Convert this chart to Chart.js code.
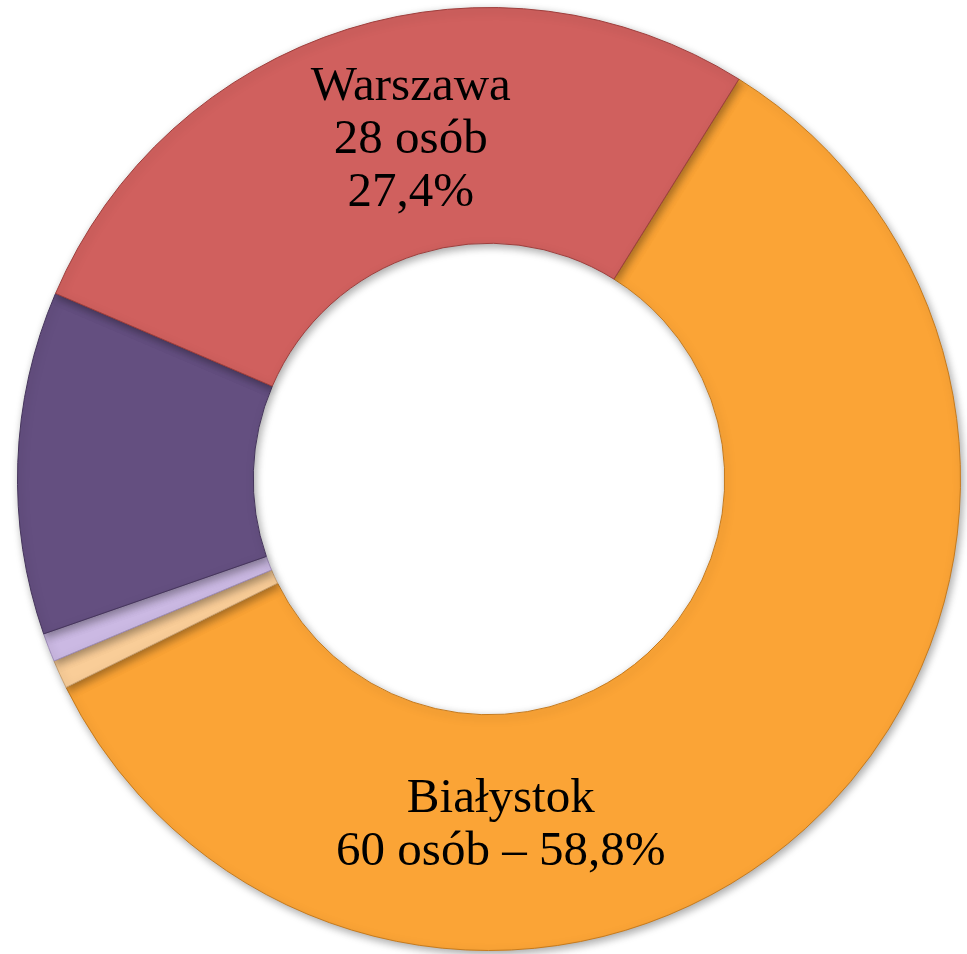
<!DOCTYPE html>
<html>
<head>
<meta charset="utf-8">
<script src="https://cdn.jsdelivr.net/npm/chart.js@4.4.0/dist/chart.umd.min.js"></script>
<style>
  html, body { margin: 0; padding: 0; background: #ffffff; }
  #wrap { width: 967px; height: 954px; }
</style>
</head>
<body>
<div id="wrap"><canvas id="myChart" width="967" height="954"></canvas></div>
<script>
const ctx = document.getElementById('myChart');

// data (clockwise from the Warszawa / Białystok boundary)
var cities = ["Białystok", "inne 1", "inne 2", "inne 3", "Warszawa"]
var people = [60, 1, 1, 12, 28]
var sliceColors = ["#FBA436", "#F9CD98", "#CBB9E3", "#644F80", "#D0605E"]
var edgeColors = ["#C67A1C", "#C9A070", "#9E8CB8", "#45345C", "#9E3E3C"]
// label text lines, only for the two big slices
var labelLines = {
  "Warszawa": ["Warszawa", "28 osób", "27,4%"],
  "Białystok": ["Białystok", "60 osób – 58,8%"]
}
// where the first baseline sits, as a fraction of the outer radius from the centre
var labelAnchor = {
  "Warszawa": [-0.166, -0.803],
  "Białystok": [0.025, 0.707]
}

const labelPlugin = {
  id: 'cityLabels',
  afterDatasetsDraw(chart) {
    const c = chart.ctx
    const meta = chart.getDatasetMeta(0)
    const arc = meta.data[0]
    const cx = arc.x, cy = arc.y, R = arc.outerRadius
    c.save()
    c.fillStyle = "#000000"
    c.font = "49px 'Liberation Serif', 'Times New Roman', serif"
    c.textAlign = "center"
    c.textBaseline = "alphabetic"
    for (const name in labelLines) {
      const a = labelAnchor[name]
      const lines = labelLines[name]
      for (var i = 0; i < lines.length; i++) {
        c.fillText(lines[i], cx + a[0] * R, cy + a[1] * R + i * 53)
      }
    }
    c.restore()
  }
}

const shadowPlugin = {
  id: 'ringShadow',
  beforeDatasetsDraw(chart) {
    chart.ctx.save()
    chart.ctx.shadowColor = "rgba(0,0,0,0.35)"
    chart.ctx.shadowBlur = 8
    chart.ctx.shadowOffsetX = 2
    chart.ctx.shadowOffsetY = 3
  },
  afterDatasetsDraw(chart) {
    chart.ctx.restore()
  }
}

let chart = new Chart(ctx, {
  type: 'doughnut',
  data: {
    labels: cities,
    datasets: [{
      data: people,
      backgroundColor: sliceColors,
      borderColor: edgeColors,
      borderWidth: 1,
      hoverOffset: 0
    }]
  },
  options: {
    responsive: false,
    animation: false,
    rotation: 32,
    cutout: '50%',
    layout: {
      padding: { left: 17, right: 6, top: 7, bottom: 3 }
    },
    plugins: {
      legend: { display: false },
      tooltip: { enabled: false }
    }
  },
  plugins: [shadowPlugin, labelPlugin]
});
</script>
</body>
</html>
